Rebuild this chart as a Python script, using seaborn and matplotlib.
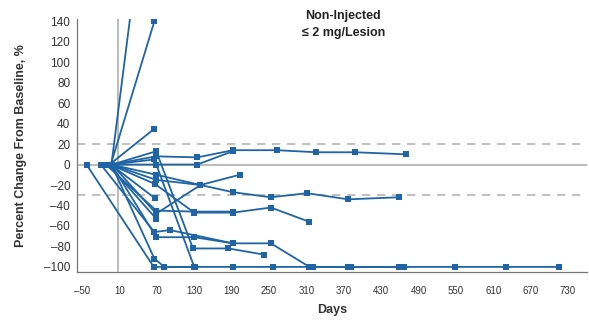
import matplotlib
matplotlib.use("Agg")
import matplotlib.pyplot as plt
import seaborn as sns
import pandas as pd

# Visit day (relative to first dose) and percent change in lesion size, one list per patient
patient_days = [
    [-3, 66],
    [-4, 66],
    [-6, 66],
    [-3, 69, 135, 192, 263, 326, 388, 470],
    [-2, 69, 128, 185, 242],
    [-4, 69, 135, 192],
    [-3, 69, 140, 192, 253, 311, 377, 458],
    [-2, 69, 140, 203],
    [-5, 67, 130, 192, 253, 315],
    [-12, 69, 130, 192],
    [-4, 67],
    [-3, 69, 130, 192, 253, 315, 377, 459],
    [-3, 66, 82, 131, 193, 256, 320, 382, 466, 549, 631, 715],
    [-43, 65, 131],
    [-20, 66, 91, 192],
    [-3, 69, 140],
    [-2, 66, 130],
    [-8, 69],
]
patient_pct = [
    [0, 330],
    [0, 140],
    [0, 35],
    [0, 8, 7, 14, 14, 12, 12, 10],
    [0, 13, -82, -82, -88],
    [0, 0, 0, 13],
    [0, -15, -20, -27, -32, -28, -34, -32],
    [0, -48, -20, -10],
    [0, -19, -47, -47, -42, -56],
    [0, -45, -46, -46],
    [0, -33],
    [0, -71, -71, -77, -77, -100, -100, -100],
    [0, -92, -100, -100, -100, -100, -100, -100, -100, -100, -100, -100],
    [0, -100, -100],
    [0, -66, -64, -77],
    [0, -10, -20],
    [0, 5, -100],
    [0, -53],
]

x_ticks = list(range(-50, 731, 60))
y_ticks = list(range(-100, 141, 20))

rows = []
for pid, (d, v) in enumerate(zip(patient_days, patient_pct)):
    for di, vi in zip(d, v):
        rows.append({"patient": pid, "day": di, "pct": vi})
df = pd.DataFrame(rows)

sns.set_style("white")
plt.rcParams["font.family"] = ["Liberation Sans", "DejaVu Sans"]

fig = plt.figure(figsize=(5.89, 3.20), dpi=100)
ax = fig.add_axes([0.131, 0.15, 0.866, 0.79])

grey = "#b5b5b5"
ax.axhline(0, color=grey, lw=1.3, zorder=1)
ax.axhline(20, color=grey, lw=1.2, ls=(0, (5, 4)), zorder=1)
ax.axhline(-30, color=grey, lw=1.2, ls=(0, (5, 4)), zorder=1)
ax.axvline(8, color=grey, lw=1.3, zorder=1)

blue = "#1f64a5"
sns.lineplot(data=df, x="day", y="pct", units="patient", estimator=None,
             sort=False, color=blue, lw=1.3, marker="s", markersize=3.8,
             markeredgewidth=0, ax=ax, zorder=3, legend=False)

ax.set_xlim(-58, 761)
ax.set_ylim(-105, 142)
ax.set_xticks(x_ticks)
ax.set_xticklabels([str(t).replace("-", "\u2013") for t in x_ticks], fontsize=7, color="#333333")
ax.set_yticks(y_ticks)
ax.set_yticklabels([str(t).replace("-", "\u2013") for t in y_ticks], fontsize=8.5, color="#333333")
ax.tick_params(axis="both", direction="out", length=3, width=0.8, color="#777777", pad=2)
ax.tick_params(axis="x", pad=7)

for s in ["top", "right"]:
    ax.spines[s].set_visible(False)
for s in ["left", "bottom"]:
    ax.spines[s].set_color("#777777")
    ax.spines[s].set_linewidth(0.9)

ax.set_xlabel("Days", fontsize=9, fontweight="bold", color="#333333", labelpad=6)
ax.set_ylabel("Percent Change From Baseline, %", fontsize=9, fontweight="bold",
              color="#333333", labelpad=12)

fig.text(0.583, 0.950, "Non-Injected", ha="center", va="center",
         fontsize=9, fontweight="bold", color="#222222")
fig.text(0.583, 0.897, "\u2264 2 mg/Lesion", ha="center", va="center",
         fontsize=9, fontweight="bold", color="#222222")

fig.savefig("out.png", dpi=100)
